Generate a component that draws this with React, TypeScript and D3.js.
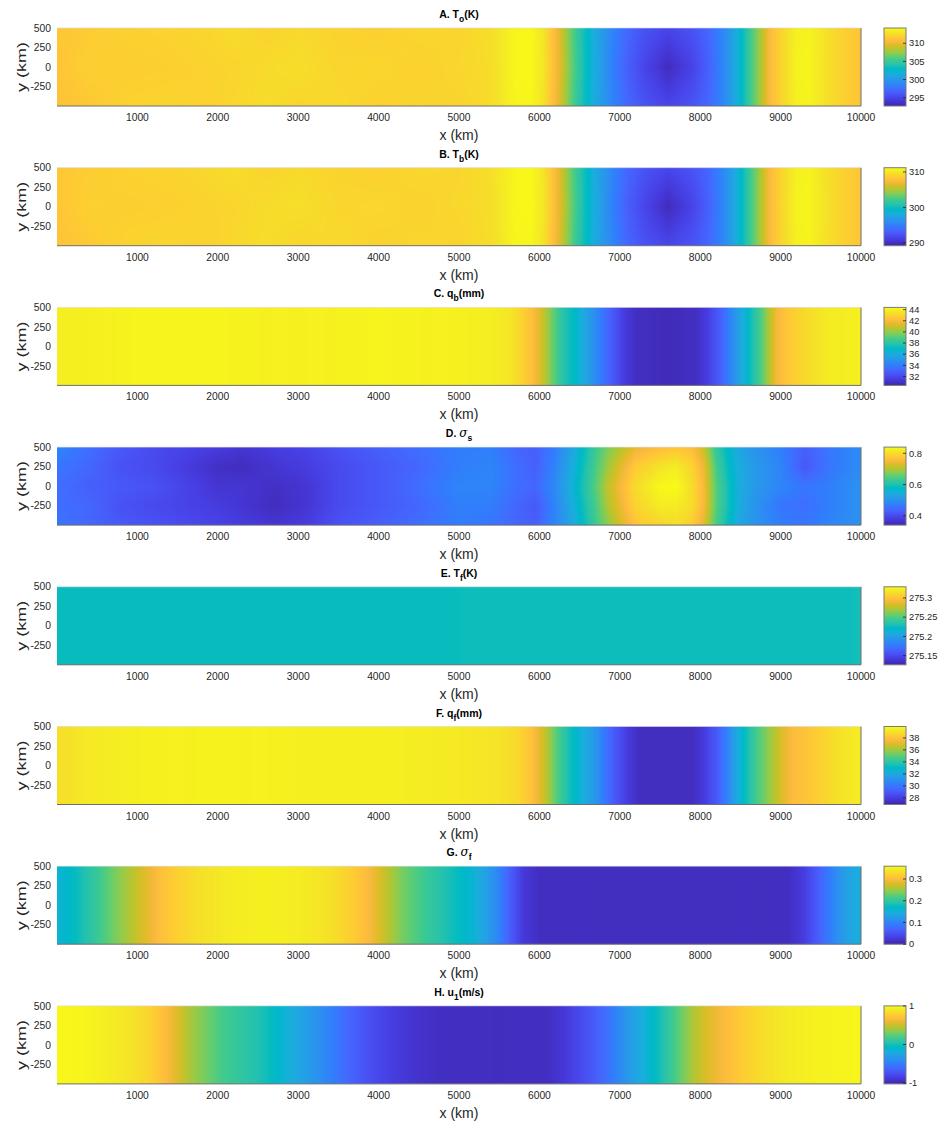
import React, { useMemo } from "react";
import * as d3 from "d3";

// MATLAB parula(64)
const PARULA: number[][] = [
  [0.2422, 0.1504, 0.6603], [0.2504, 0.165, 0.7076], [0.2578, 0.1818, 0.7511], [0.2647, 0.1978, 0.7952],
  [0.2706, 0.2147, 0.8364], [0.2751, 0.2342, 0.871], [0.2783, 0.2559, 0.8991], [0.2803, 0.2782, 0.9221],
  [0.2813, 0.3006, 0.9414], [0.281, 0.3228, 0.9579], [0.2795, 0.3447, 0.9717], [0.276, 0.3667, 0.9829],
  [0.2699, 0.3892, 0.9906], [0.2602, 0.4123, 0.9952], [0.244, 0.4358, 0.9988], [0.2206, 0.4603, 0.9973],
  [0.1963, 0.4847, 0.9892], [0.1834, 0.5074, 0.9798], [0.1786, 0.5289, 0.9682], [0.1764, 0.5499, 0.952],
  [0.1687, 0.5703, 0.9359], [0.154, 0.5902, 0.9218], [0.146, 0.6091, 0.9079], [0.138, 0.6276, 0.8973],
  [0.1248, 0.6459, 0.8883], [0.1113, 0.6635, 0.8763], [0.0952, 0.6798, 0.8598], [0.0689, 0.6948, 0.8394],
  [0.0297, 0.7082, 0.8163], [0.0036, 0.7203, 0.7917], [0.0067, 0.7312, 0.766], [0.0433, 0.7411, 0.7394],
  [0.0964, 0.75, 0.712], [0.1408, 0.7584, 0.6842], [0.1717, 0.767, 0.6554], [0.1938, 0.7758, 0.6251],
  [0.2161, 0.7843, 0.5923], [0.247, 0.7918, 0.5567], [0.2906, 0.7973, 0.5188], [0.3406, 0.8008, 0.4789],
  [0.3909, 0.8029, 0.4354], [0.4456, 0.8024, 0.3909], [0.5044, 0.7993, 0.348], [0.5616, 0.7942, 0.3045],
  [0.6174, 0.7876, 0.2612], [0.672, 0.7793, 0.2227], [0.7242, 0.7698, 0.191], [0.7738, 0.7598, 0.1646],
  [0.8203, 0.7498, 0.1535], [0.8634, 0.7406, 0.1596], [0.9035, 0.733, 0.1774], [0.9393, 0.7288, 0.21],
  [0.9728, 0.7298, 0.2394], [0.9956, 0.7434, 0.2371], [0.997, 0.7659, 0.2199], [0.9952, 0.7893, 0.2028],
  [0.9892, 0.8136, 0.1885], [0.9786, 0.8386, 0.1766], [0.9676, 0.8639, 0.1643], [0.961, 0.889, 0.1537],
  [0.9597, 0.9135, 0.1423], [0.9628, 0.9373, 0.1265], [0.9691, 0.9606, 0.1064], [0.9769, 0.9839, 0.0805],
];

// Shared axes
const xTicks = [1000, 2000, 3000, 4000, 5000, 6000, 7000, 8000, 9000, 10000];
const yTicks = [500, 250, 0, -250];
const rowY3 = [500, 0, -500];
const rowY5 = [500, 250, 0, -250, -500];

// A. ocean temperature T_o (K)
const xNodesT = [0, 400, 900, 1400, 1900, 2200, 2600, 3000, 3500, 4000, 4500, 5000, 5400, 5700, 5900, 6050, 6150, 6250, 6350, 6450, 6550, 6700, 6900, 7100, 7300, 7600, 7900, 8100, 8300, 8450, 8550, 8650, 8750, 8850, 9000, 9200, 9350, 9600, 9850, 10000];
const toNorth = [311.3, 311.6, 311.9, 312.0, 312.2, 312.5, 312.0, 312.3, 312.0, 311.8, 312.2, 312.1, 312.6, 313.9, 314.0, 312.9, 311.3, 309.6, 307.4, 305.2, 303.5, 301.2, 298.8, 297.0, 295.8, 295.0, 295.8, 297.0, 299.0, 301.5, 303.5, 305.8, 308.0, 310.3, 312.0, 313.6, 313.7, 312.6, 311.6, 311.2];
const toMid = [311.2, 311.8, 311.7, 311.8, 312.0, 312.1, 312.4, 312.6, 312.1, 312.2, 311.9, 312.2, 312.5, 313.9, 314.0, 313.0, 311.4, 309.7, 307.6, 305.4, 303.6, 301.3, 298.5, 296.5, 295.0, 293.3, 294.8, 296.6, 299.0, 301.5, 303.5, 305.8, 308.0, 310.3, 312.0, 313.7, 313.8, 312.6, 311.6, 311.2];
const toSouth = [311.0, 311.4, 312.0, 312.1, 311.9, 312.2, 312.5, 312.1, 312.3, 311.9, 312.1, 312.0, 312.5, 313.8, 313.9, 312.8, 311.2, 309.5, 307.3, 305.0, 303.4, 301.1, 298.8, 297.0, 295.8, 295.0, 295.8, 297.0, 299.0, 301.5, 303.5, 305.8, 308.0, 310.3, 312.0, 313.6, 313.7, 312.6, 311.6, 311.2];

// B. boundary-layer temperature T_b (K)
const tbNorth = [308.3, 308.6, 308.9, 309.0, 309.2, 309.5, 309.0, 309.3, 309.0, 308.8, 309.2, 309.1, 309.6, 310.9, 311.0, 309.9, 308.3, 306.5, 304.3, 302.0, 300.3, 297.9, 295.5, 293.6, 292.4, 291.6, 292.4, 293.6, 295.7, 298.2, 300.3, 302.6, 304.9, 307.2, 309.0, 310.6, 310.7, 309.6, 308.6, 308.2];
const tbMid = [308.2, 308.8, 308.7, 308.8, 309.0, 309.1, 309.4, 309.6, 309.1, 309.2, 308.9, 309.2, 309.5, 310.9, 311.0, 310.0, 308.4, 306.6, 304.5, 302.2, 300.4, 298.0, 295.2, 293.1, 291.6, 289.8, 291.4, 293.2, 295.7, 298.2, 300.3, 302.6, 304.9, 307.2, 309.0, 310.7, 310.8, 309.6, 308.6, 308.2];
const tbSouth = [308.0, 308.4, 309.0, 309.1, 308.9, 309.2, 309.5, 309.1, 309.3, 308.9, 309.1, 309.0, 309.5, 310.8, 310.9, 309.8, 308.2, 306.4, 304.2, 301.8, 300.2, 297.8, 295.5, 293.6, 292.4, 291.6, 292.4, 293.6, 295.7, 298.2, 300.3, 302.6, 304.9, 307.2, 309.0, 310.6, 310.7, 309.6, 308.6, 308.2];

// C. boundary-layer moisture q_b (mm)
const xNodesQb = [0, 1000, 2000, 3000, 4000, 5000, 5400, 5650, 5800, 5900, 6000, 6080, 6180, 6300, 6450, 6600, 6750, 6900, 7050, 7200, 7600, 7950, 8100, 8250, 8400, 8550, 8650, 8750, 8850, 8950, 9100, 9300, 9600, 10000];
const qbValues = [43.9, 44.1, 44.1, 44.0, 44.1, 44.0, 43.9, 43.6, 42.9, 42.3, 41.4, 40.5, 39.2, 37.8, 36.9, 35.5, 34.1, 32.8, 31.5, 30.9, 30.7, 30.9, 31.6, 32.9, 34.6, 36.4, 37.6, 38.8, 40.4, 41.8, 42.6, 43.2, 43.8, 44.0];

// D. sigma_s
const xNodesSigmaS = [0, 400, 800, 1200, 1600, 2000, 2300, 2700, 3100, 3500, 4000, 4500, 5000, 5400, 5700, 5950, 6200, 6400, 6550, 6700, 6850, 7000, 7200, 7500, 7700, 7900, 8050, 8200, 8350, 8500, 8700, 9000, 9300, 9600, 10000];
const sigmaS500 = [0.48, 0.45, 0.42, 0.40, 0.39, 0.38, 0.37, 0.38, 0.39, 0.41, 0.43, 0.45, 0.47, 0.47, 0.44, 0.43, 0.47, 0.53, 0.58, 0.63, 0.67, 0.70, 0.74, 0.76, 0.77, 0.76, 0.715, 0.62, 0.57, 0.53, 0.50, 0.47, 0.43, 0.46, 0.49];
const sigmaS250 = [0.46, 0.44, 0.41, 0.40, 0.38, 0.36, 0.355, 0.37, 0.38, 0.40, 0.42, 0.44, 0.47, 0.48, 0.45, 0.43, 0.48, 0.54, 0.59, 0.64, 0.69, 0.73, 0.78, 0.81, 0.82, 0.79, 0.74, 0.64, 0.58, 0.54, 0.51, 0.48, 0.42, 0.46, 0.49];
const sigmaS0 = [0.45, 0.43, 0.42, 0.41, 0.39, 0.37, 0.37, 0.36, 0.37, 0.40, 0.42, 0.45, 0.48, 0.48, 0.45, 0.44, 0.49, 0.55, 0.60, 0.65, 0.71, 0.75, 0.80, 0.835, 0.84, 0.80, 0.75, 0.65, 0.59, 0.54, 0.51, 0.48, 0.46, 0.47, 0.50];
const sigmaSm250 = [0.45, 0.44, 0.41, 0.40, 0.39, 0.38, 0.37, 0.355, 0.37, 0.40, 0.42, 0.44, 0.47, 0.47, 0.44, 0.42, 0.48, 0.54, 0.59, 0.64, 0.70, 0.74, 0.79, 0.82, 0.82, 0.80, 0.75, 0.65, 0.59, 0.54, 0.50, 0.46, 0.45, 0.47, 0.50];
const sigmaSm500 = [0.46, 0.44, 0.42, 0.41, 0.40, 0.39, 0.38, 0.37, 0.38, 0.41, 0.43, 0.45, 0.47, 0.46, 0.44, 0.43, 0.48, 0.53, 0.58, 0.63, 0.68, 0.72, 0.77, 0.79, 0.80, 0.78, 0.73, 0.64, 0.58, 0.53, 0.50, 0.47, 0.46, 0.48, 0.50];

// E. free-troposphere temperature T_f (K)
const xNodesTf = [0, 4950, 5050, 9850, 10000];
const tfValues = [275.225, 275.225, 275.226, 275.226, 275.229];

// F. free-troposphere moisture q_f (mm)
const xNodesQf = [0, 400, 1000, 2000, 3000, 4000, 5000, 5500, 5750, 5900, 6000, 6100, 6200, 6350, 6500, 6650, 6800, 6950, 7100, 7250, 7900, 8050, 8200, 8350, 8500, 8600, 8700, 8850, 9000, 9150, 9300, 9500, 9700, 10000];
const qfValues = [38.9, 39.3, 39.5, 39.6, 39.5, 39.5, 39.3, 39.1, 38.7, 38.0, 37.2, 36.3, 35.1, 33.6, 32.6, 31.6, 30.2, 28.9, 27.9, 27.3, 27.3, 27.9, 29.0, 30.6, 32.6, 33.6, 34.6, 35.8, 36.9, 37.8, 38.0, 38.5, 39.0, 39.4];

// G. sigma_f
const xNodesSigmaF = [0, 250, 500, 750, 1000, 1250, 1500, 1800, 2200, 2600, 3000, 3400, 3700, 3900, 4100, 4300, 4600, 4900, 5200, 5450, 5650, 5800, 6000, 7000, 8000, 9100, 9300, 9500, 9700, 9850, 10000];
const sigmaFValues = [0.155, 0.175, 0.205, 0.24, 0.27, 0.30, 0.32, 0.335, 0.345, 0.348, 0.345, 0.335, 0.315, 0.295, 0.265, 0.235, 0.205, 0.18, 0.155, 0.11, 0.06, 0.025, 0.012, 0.011, 0.011, 0.012, 0.03, 0.07, 0.11, 0.135, 0.15];

// H. first baroclinic wind u_1 (m/s)
const xNodesU = [0, 300, 600, 900, 1150, 1350, 1500, 1650, 1850, 2050, 2350, 2600, 2850, 3050, 3300, 3600, 3900, 4200, 4500, 4800, 5500, 6100, 6300, 6550, 6800, 7000, 7200, 7450, 7650, 7900, 8100, 8300, 8550, 8800, 9100, 9500, 10000];
const uValues = [0.98, 0.97, 0.93, 0.88, 0.80, 0.67, 0.55, 0.42, 0.30, 0.18, 0.08, -0.01, -0.15, -0.27, -0.41, -0.60, -0.76, -0.86, -0.92, -0.95, -0.96, -0.95, -0.89, -0.76, -0.60, -0.42, -0.25, -0.05, 0.15, 0.42, 0.56, 0.66, 0.77, 0.85, 0.91, 0.95, 0.97];

// Color limits and colorbar ticks
const climTo = [292.7, 314.2], cbTo = [295, 300, 305, 310];
const climTb = [289.2, 311.2], cbTb = [290, 300, 310];
const climQb = [30.4, 44.4], cbQb = [32, 34, 36, 38, 40, 42, 44];
const climSigmaS = [0.34, 0.84], cbSigmaS = [0.4, 0.6, 0.8];
const climTf = [275.126, 275.329], cbTf = [275.15, 275.2, 275.25, 275.3];
const climQf = [26.9, 39.9], cbQf = [28, 30, 32, 34, 36, 38];
const climSigmaF = [0, 0.359], cbSigmaF = [0, 0.1, 0.2, 0.3];
const climU = [-1.02, 1.0], cbU = [-1, 0, 1];

type Panel = {
  letter: string;
  sym: string;
  greek?: boolean;
  sub: string;
  unit: string;
  xs: number[];
  ys: number[];
  rows: number[][];
  clim: number[];
  cbTicks: number[];
};

const panels: Panel[] = [
  { letter: "A.", sym: "T", sub: "o", unit: "(K)", xs: xNodesT, ys: rowY3, rows: [toNorth, toMid, toSouth], clim: climTo, cbTicks: cbTo },
  { letter: "B.", sym: "T", sub: "b", unit: "(K)", xs: xNodesT, ys: rowY3, rows: [tbNorth, tbMid, tbSouth], clim: climTb, cbTicks: cbTb },
  { letter: "C.", sym: "q", sub: "b", unit: "(mm)", xs: xNodesQb, ys: [0], rows: [qbValues], clim: climQb, cbTicks: cbQb },
  { letter: "D.", sym: "σ", greek: true, sub: "s", unit: "", xs: xNodesSigmaS, ys: rowY5, rows: [sigmaS500, sigmaS250, sigmaS0, sigmaSm250, sigmaSm500], clim: climSigmaS, cbTicks: cbSigmaS },
  { letter: "E.", sym: "T", sub: "f", unit: "(K)", xs: xNodesTf, ys: [0], rows: [tfValues], clim: climTf, cbTicks: cbTf },
  { letter: "F.", sym: "q", sub: "f", unit: "(mm)", xs: xNodesQf, ys: [0], rows: [qfValues], clim: climQf, cbTicks: cbQf },
  { letter: "G.", sym: "σ", greek: true, sub: "f", unit: "", xs: xNodesSigmaF, ys: [0], rows: [sigmaFValues], clim: climSigmaF, cbTicks: cbSigmaF },
  { letter: "H.", sym: "u", sub: "1", unit: "(m/s)", xs: xNodesU, ys: [0], rows: [uValues], clim: climU, cbTicks: cbU },
];

// Layout
const W = 940;
const H = 1123;
const plotLeft = 57;
const plotRight = 861;
const plotH = 78;
const firstTop = 28;
const pitch = 139.7;
const cbLeft = 884;
const cbW = 22;
const FONT = "'Liberation Sans', Arial, Helvetica, sans-serif";
const TXT = "#262626";

function parula(t: number): [number, number, number] {
  const c = Math.max(0, Math.min(1, t)) * (PARULA.length - 1);
  const i = Math.min(PARULA.length - 2, Math.floor(c));
  const f = c - i;
  const a = PARULA[i], b = PARULA[i + 1];
  return [
    Math.round(255 * (a[0] + (b[0] - a[0]) * f)),
    Math.round(255 * (a[1] + (b[1] - a[1]) * f)),
    Math.round(255 * (a[2] + (b[2] - a[2]) * f)),
  ];
}

const xScale = d3.scaleLinear().domain([0, 10000]).range([plotLeft, plotRight]);

function fieldImage(p: Panel, top: number): string {
  const w = Math.round(plotRight - plotLeft);
  const h = plotH;
  const canvas = document.createElement("canvas");
  canvas.width = w;
  canvas.height = h;
  const ctx = canvas.getContext("2d");
  if (!ctx) return "";
  const img = ctx.createImageData(w, h);
  const yScale = d3.scaleLinear().domain([500, -500]).range([top, top + plotH]);
  const rowInterp = p.rows.map((r) => d3.scaleLinear().domain(p.xs).range(r).clamp(true));
  const tScale = d3.scaleLinear().domain(p.clim).range([0, 1]).clamp(true);
  for (let px = 0; px < w; px++) {
    const xv = xScale.invert(plotLeft + px + 0.5);
    const colVals = rowInterp.map((f) => f(xv));
    const colY = p.ys.length > 1 ? d3.scaleLinear().domain(p.ys).range(colVals).clamp(true) : null;
    for (let py = 0; py < h; py++) {
      const yv = yScale.invert(top + py + 0.5);
      const v = colY ? colY(yv) : colVals[0];
      const [r, g, b] = parula(tScale(v));
      const k = (py * w + px) * 4;
      img.data[k] = r;
      img.data[k + 1] = g;
      img.data[k + 2] = b;
      img.data[k + 3] = 255;
    }
  }
  ctx.putImageData(img, 0, 0);
  return canvas.toDataURL();
}

function fmt(v: number): string {
  return String(+v.toFixed(3));
}

export default function App() {
  const images = useMemo(() => panels.map((p, i) => fieldImage(p, firstTop + i * pitch)), []);
  const midX = (plotLeft + plotRight) / 2;

  return (
    <svg
      width={W}
      height={H}
      style={{ position: "absolute", left: 0, top: 0, background: "#fff" }}
      fontFamily={FONT}
    >
      <defs>
        <linearGradient id="parulaGrad" x1="0" y1="1" x2="0" y2="0">
          {PARULA.map((c, i) => (
            <stop
              key={i}
              offset={i / (PARULA.length - 1)}
              stopColor={`rgb(${Math.round(c[0] * 255)},${Math.round(c[1] * 255)},${Math.round(c[2] * 255)})`}
            />
          ))}
        </linearGradient>
      </defs>
      {panels.map((p, i) => {
        const top = firstTop + i * pitch;
        const bottom = top + plotH;
        const yScale = d3.scaleLinear().domain([500, -500]).range([top, bottom]);
        const cbScale = d3.scaleLinear().domain(p.clim).range([bottom, top]);
        return (
          <g key={p.letter}>
            {/* title */}
            <text x={midX} y={top - 10} textAnchor="middle" fontWeight="bold" fontSize={10.5} fill="#000">
              <tspan>{p.letter + " "}</tspan>
              {p.greek ? (
                <tspan fontFamily="'DejaVu Serif', 'Liberation Serif', serif" fontStyle="italic" fontWeight="normal" fontSize={12}>
                  {p.sym}
                </tspan>
              ) : (
                <tspan>{p.sym}</tspan>
              )}
              <tspan dy={4} fontSize={8.5}>{p.sub}</tspan>
              {p.unit ? <tspan dy={-4}>{p.unit}</tspan> : null}
            </text>

            {/* field */}
            <image
              href={images[i]}
              x={plotLeft}
              y={top}
              width={plotRight - plotLeft}
              height={plotH}
              preserveAspectRatio="none"
            />
            <line x1={plotLeft} x2={plotRight} y1={bottom} y2={bottom} stroke="#6e6e6e" strokeWidth={1} />
            <line x1={plotRight} x2={plotRight} y1={top} y2={bottom} stroke="#6e6e6e" strokeWidth={1} />
            <line x1={plotLeft} x2={plotRight} y1={top} y2={top} stroke="#d8d8d8" strokeWidth={0.6} />

            {/* y axis */}
            {yTicks.map((t) => (
              <text key={t} x={51} y={yScale(t)} dy="0.35em" textAnchor="end" fontSize={10.3} fill={TXT}>
                {t}
              </text>
            ))}
            <text
              transform={`translate(26,${(top + bottom) / 2}) rotate(-90)`}
              textAnchor="middle"
              fontSize={13.5}
              fill={TXT}
              textLength={50}
              lengthAdjust="spacingAndGlyphs"
            >
              y (km)
            </text>

            {/* x axis */}
            {xTicks.map((t) => (
              <text key={t} x={xScale(t)} y={bottom + 15} textAnchor="middle" fontSize={10.3} fill={TXT}>
                {t}
              </text>
            ))}
            <text x={midX} y={bottom + 34} textAnchor="middle" fontSize={14} fill={TXT}>
              x (km)
            </text>

            {/* colorbar */}
            <rect x={cbLeft} y={top} width={cbW} height={plotH} fill="url(#parulaGrad)" stroke="#7a7a7a" strokeWidth={1} />
            {p.cbTicks.map((t) => (
              <g key={t}>
                <line x1={cbLeft + cbW - 3} x2={cbLeft + cbW} y1={cbScale(t)} y2={cbScale(t)} stroke="#262626" strokeWidth={0.8} />
                <text x={cbLeft + cbW + 3} y={cbScale(t)} dy="0.35em" fontSize={9.3} fill={TXT}>
                  {fmt(t)}
                </text>
              </g>
            ))}
          </g>
        );
      })}
    </svg>
  );
}
